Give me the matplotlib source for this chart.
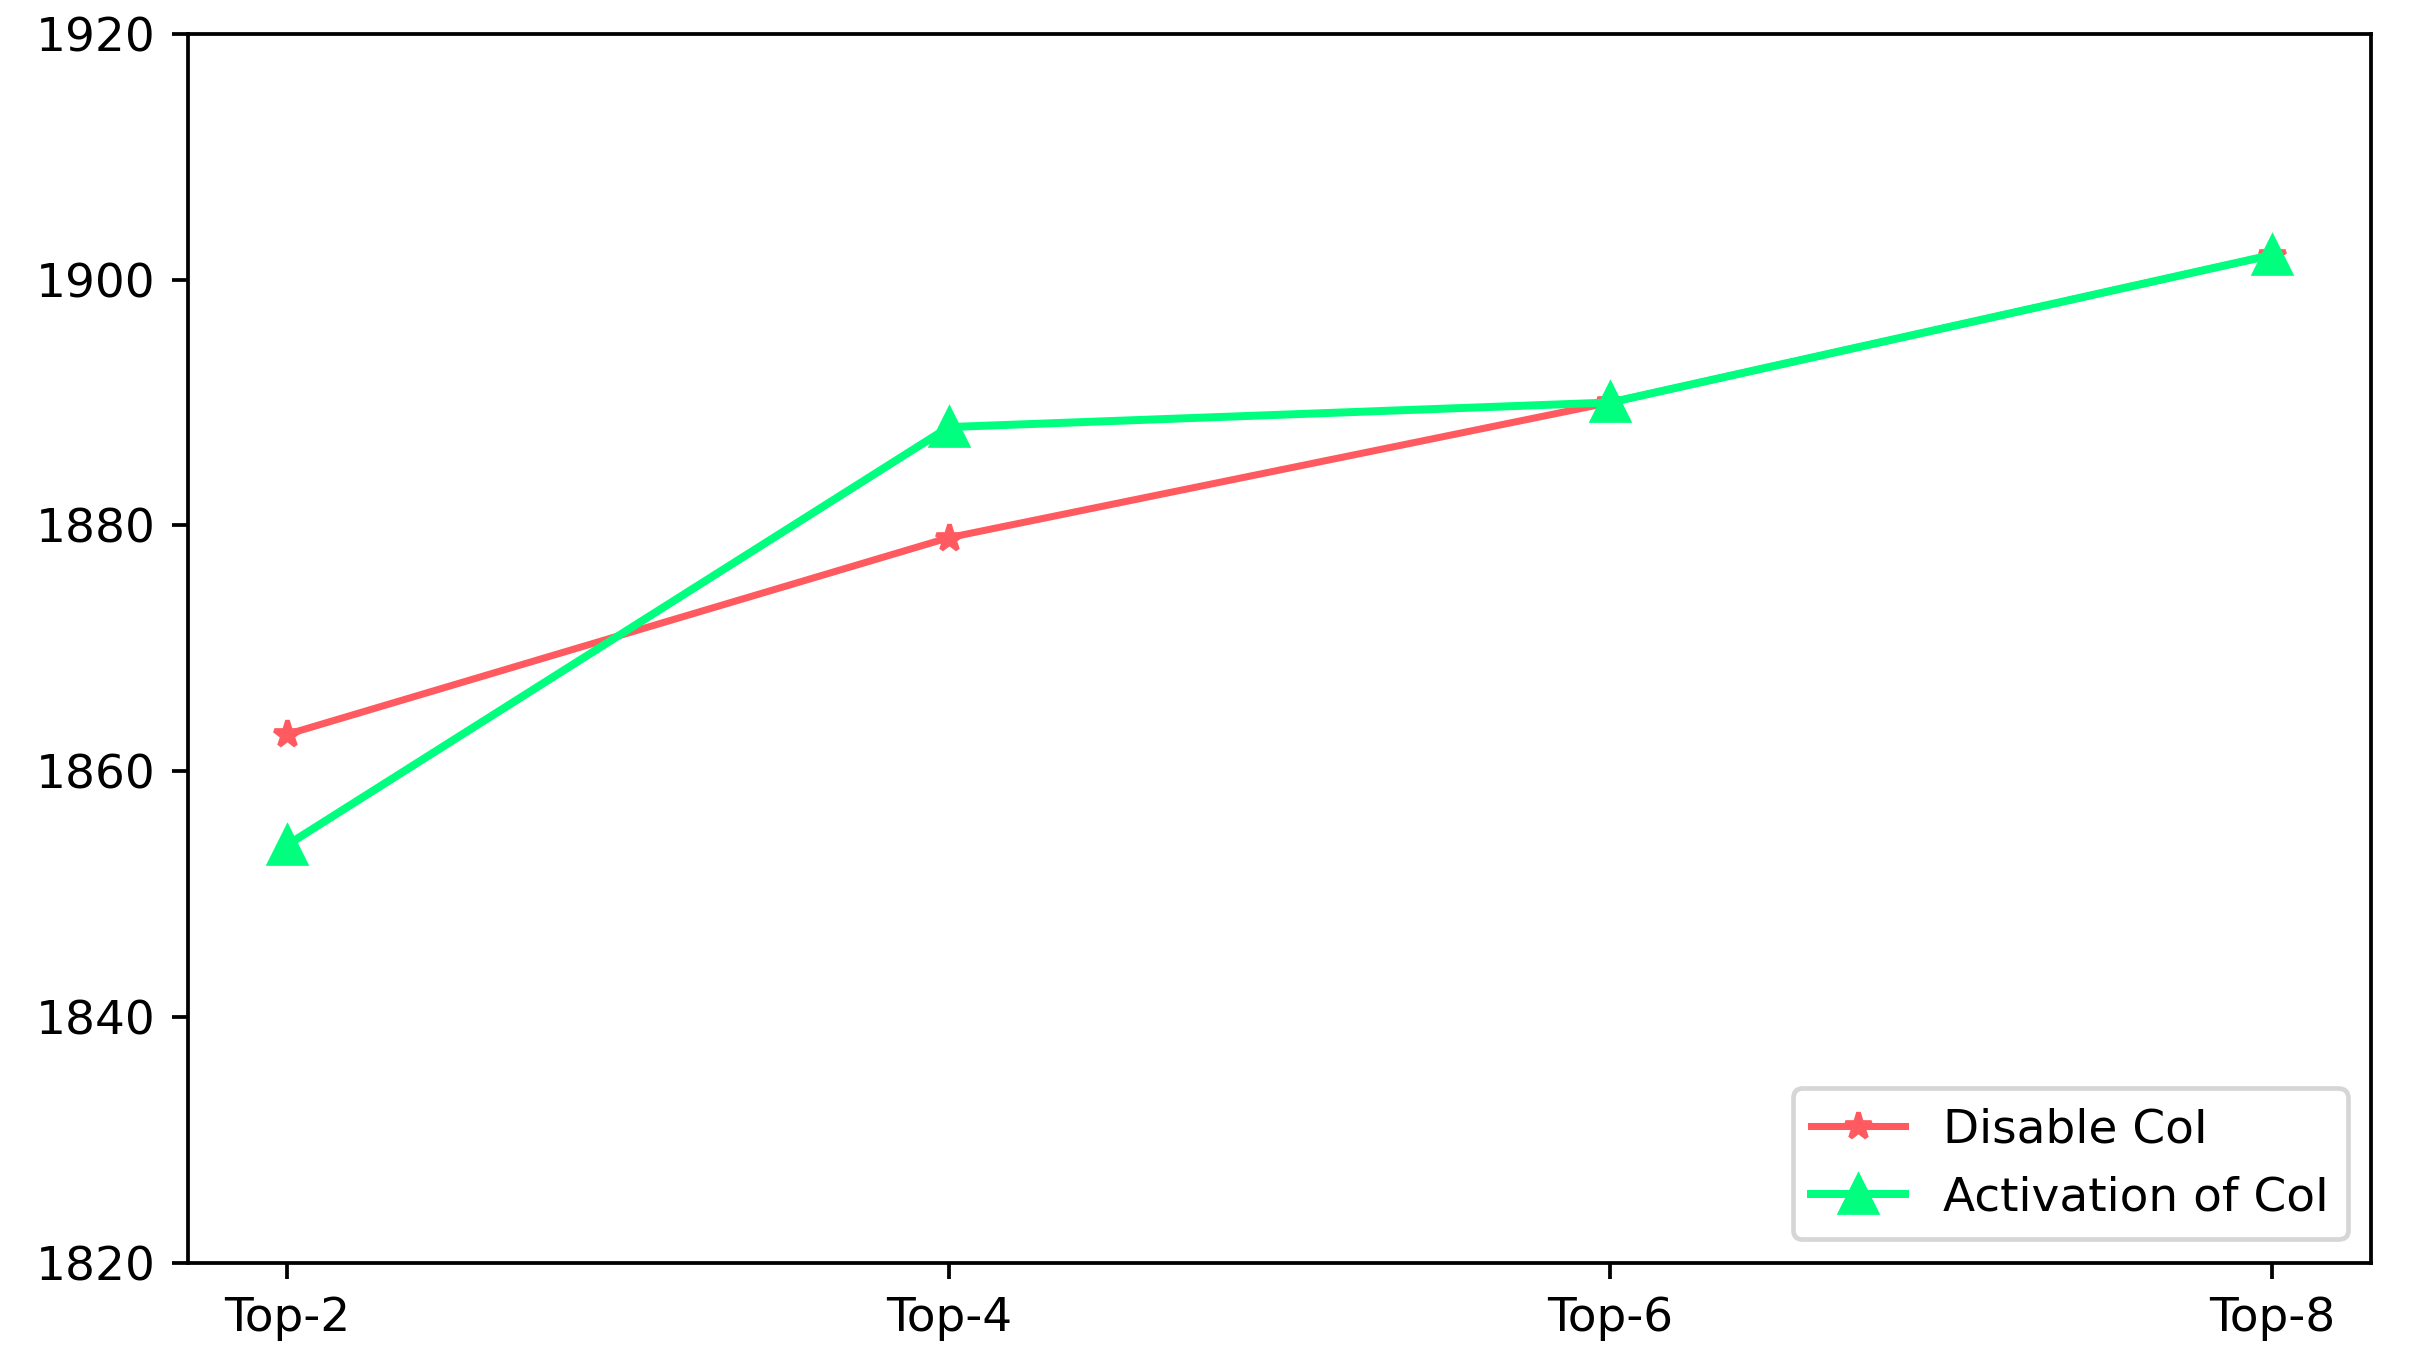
import matplotlib
matplotlib.use("Agg")
import matplotlib.pyplot as plt

# data
labels = ["Top-2", "Top-4", "Top-6", "Top-8"]
disable_coi = [1863, 1879, 1890, 1902]
activation_coi = [1854, 1888, 1890, 1902]

dpi = 338
fig = plt.figure(figsize=(2412 / dpi, 1352 / dpi), dpi=dpi)
ax = fig.add_axes([0.078, 0.066, 0.905, 0.909])

ax.plot(labels, disable_coi, color="#ff5a5f", marker="*", markersize=6,
        linewidth=1.5, label="Disable CoI")
ax.plot(labels, activation_coi, color="#00ff7f", marker="^", markersize=7.5,
        linewidth=1.7, label="Activation of CoI")

ax.set_ylim(1820, 1920)
ax.set_yticks([1820, 1840, 1860, 1880, 1900, 1920])
ax.legend(loc="lower right")

fig.savefig("out.png", dpi=dpi)
